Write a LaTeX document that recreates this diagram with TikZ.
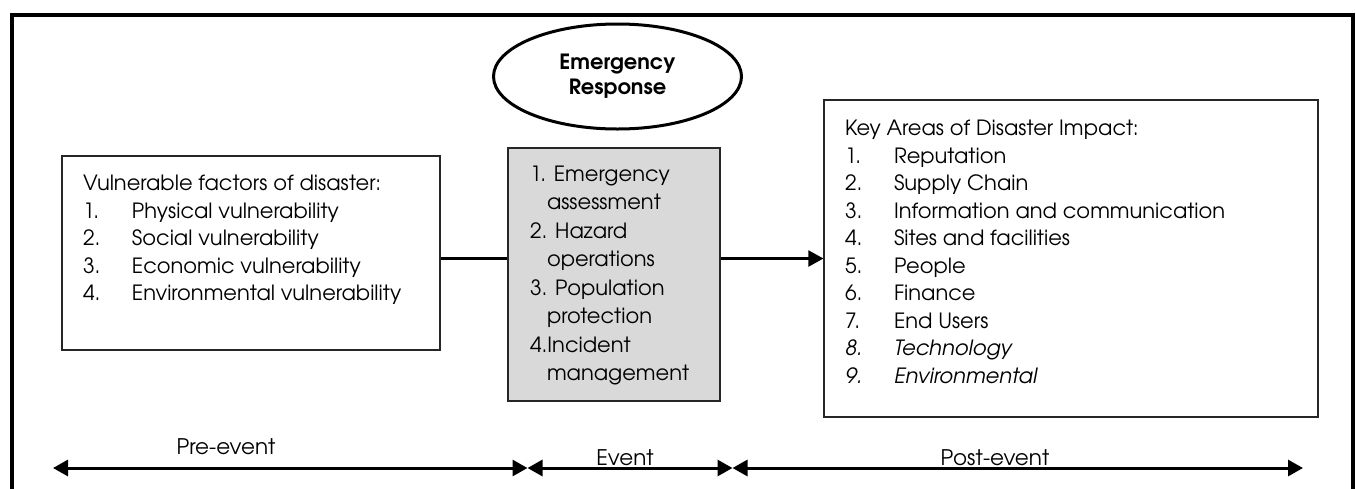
\documentclass[tikz,border=0pt]{standalone}
\usepackage{fontspec}
\setmainfont{TeX Gyre Adventor}
\usetikzlibrary{shapes.geometric,arrows.meta,positioning}
\definecolor{evgray}{HTML}{D9D9D9}
\newcommand{\itm}[2]{\makebox[49pt][l]{#1}#2}
\newcommand{\ind}{\hspace*{17pt}}
\newcommand{\listin}[3]{\parbox[c][#2][t]{#1}{\raggedright #3}}
\tikzset{
  listbox/.style={draw=black!85, line width=1.2pt, inner sep=0pt},
  evtip/.tip={Triangle[length=15pt,width=16pt]},
  phase/.style={line width=3pt, evtip-evtip},
}

\begin{document}
\begin{tikzpicture}[x=1pt,y=-1pt,font=\fontsize{21}{27.5}\selectfont]
\useasboundingbox (0,0) rectangle (1356,488);
% outer frame, open at the bottom
\draw[line width=4pt] (12,520) -- (12,14.5) -- (1353,14.5) -- (1353,520);

\node[ellipse, draw, line width=3pt, minimum width=248pt, minimum height=105pt,
  align=center, font=\bfseries\fontsize{21}{25}\selectfont] (resp) at (617.5,76.5) {Emergency\\Response};

\node[listbox, inner xsep=21pt, inner ysep=19pt] (vuln) at (251,253) {\listin{336pt}{156pt}{%
Vulnerable factors of disaster:\\
\itm{1.}{Physical vulnerability}\\
\itm{2.}{Social vulnerability}\\
\itm{3.}{Economic vulnerability}\\
\itm{4.}{Environmental vulnerability}}};

\node[listbox, fill=evgray, inner xsep=22pt, inner ysep=17.5pt,
  font=\fontsize{21}{28.5}\selectfont] (resp-list) at (614,274.5) {\listin{168pt}{218pt}{%
1. Emergency\\
\ind assessment\\
2. Hazard\\
\ind operations\\
3. Population\\
\ind protection\\
4.Incident\\
\ind management}};

\node[listbox, inner xsep=21pt, inner ysep=20pt] (impact) at (1071,258.5) {\listin{452pt}{277pt}{%
Key Areas of Disaster Impact:\\
\itm{1.}{Reputation}\\
\itm{2.}{Supply Chain}\\
\itm{3.}{Information and communication}\\
\itm{4.}{Sites and facilities}\\
\itm{5.}{People}\\
\itm{6.}{Finance}\\
\itm{7.}{End Users}\\
\itm{\itshape 8.}{\itshape Technology}\\
\itm{\itshape 9.}{\itshape Environmental}}};

\draw[line width=2.2pt] (vuln.east |- impact.west) -- (resp-list.west |- impact.west);
\draw[line width=2.2pt, -evtip] (resp-list.east |- impact.west) -- (impact.west);

% timeline
\coordinate (t0) at (53,468);
\coordinate (t1) at (527.5,468);
\coordinate (t2) at (732.5,468);
\coordinate (t3) at (1303,468);
\draw[phase] (t0) -- (t1);
\draw[phase] (t1) -- (t2);
\draw[phase] (t2) -- (t3);
\node[font=\fontsize{21.5}{26}\selectfont] (pre) at (226,447) {Pre-event};
\node[font=\fontsize{21.5}{26}\selectfont] (ev) at (625,458) {Event};
\node[font=\fontsize{21.5}{26}\selectfont] (post) at (995,458) {Post-event};
\end{tikzpicture}
\end{document}
